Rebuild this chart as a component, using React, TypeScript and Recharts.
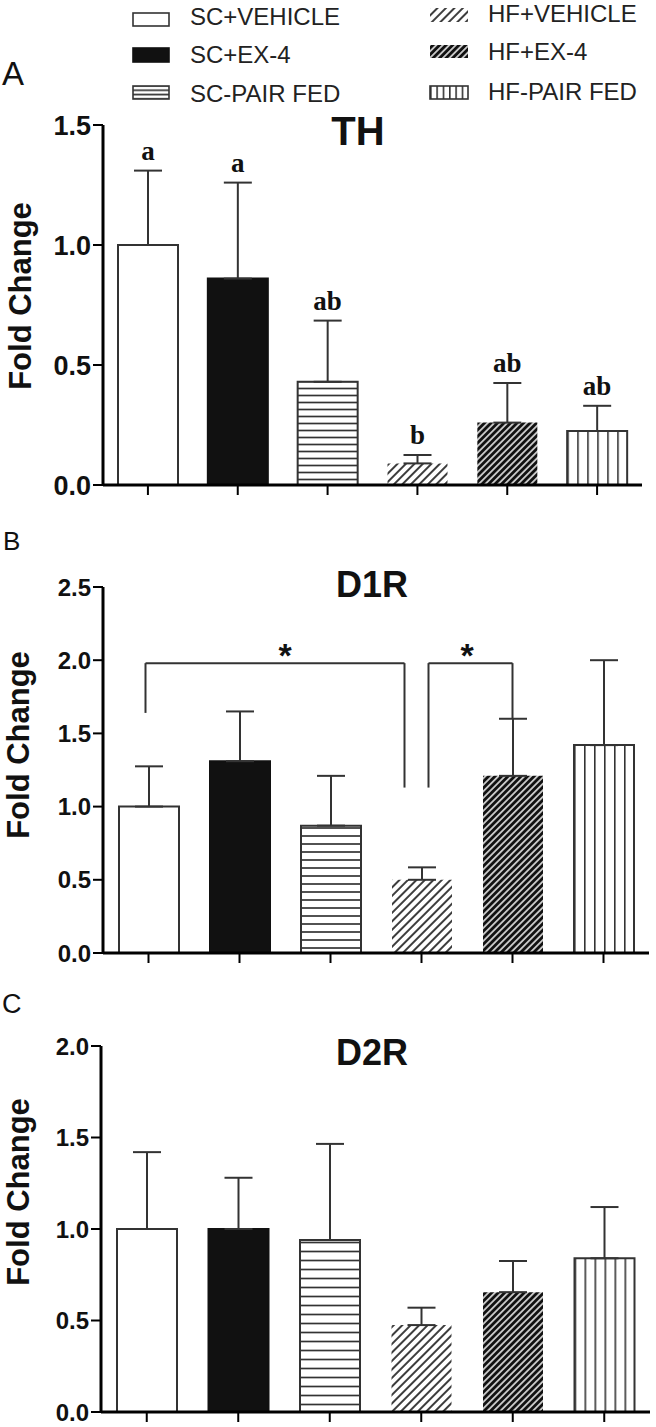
import React from "react";
import {
  ComposedChart,
  Bar,
  Cell,
  ErrorBar,
  XAxis,
  YAxis,
  Line,
  LabelList,
  ReferenceLine,
} from "recharts";

const groups = ["SC+VEHICLE", "SC+EX-4", "SC-PAIR FED", "HF+VEHICLE", "HF+EX-4", "HF-PAIR FED"];

// TH
const thMean = [1.0, 0.86, 0.43, 0.09, 0.26, 0.225];
const thSem = [0.31, 0.4, 0.255, 0.035, 0.165, 0.105];
const thLetters = ["a", "a", "ab", "b", "ab", "ab"];
const thTicks = [0, 0.5, 1.0, 1.5];

// D1R
const d1Mean = [1.0, 1.31, 0.87, 0.5, 1.21, 1.42];
const d1Sem = [0.275, 0.34, 0.34, 0.085, 0.39, 0.58];
const d1Ticks = [0, 0.5, 1.0, 1.5, 2.0, 2.5];
const d1Brackets = [
  { from: "SC+VEHICLE", to: "HF+VEHICLE", top: 1.98, fromLow: 1.64, toLow: 1.13, mark: "*" },
  { from: "HF+VEHICLE", to: "HF+EX-4", top: 1.98, fromLow: 1.13, toLow: 1.6, mark: "*" },
];

// D2R
const d2Mean = [1.0, 1.0, 0.94, 0.475, 0.655, 0.84];
const d2Sem = [0.42, 0.28, 0.525, 0.095, 0.17, 0.28];
const d2Ticks = [0, 0.5, 1.0, 1.5, 2.0];

const sans = 'Arial, "Liberation Sans", Helvetica, sans-serif';
const serif = '"Times New Roman", "Liberation Serif", serif';

// pixel nudges for the bracket legs that sit beside the HF+VEHICLE bar
const legShift = [
  [-3, -17],
  [7, 0],
];

function patternDefs(p: string, hGap: number, vCols: number) {
  return (
    <defs>
      <pattern id={`${p}-h`} patternUnits="userSpaceOnUse" width={10} height={hGap}>
        <rect width={10} height={hGap} fill="#fff" />
        <line x1={0} x2={10} y1={hGap / 2} y2={hGap / 2} stroke="#333" strokeWidth={1.7} />
      </pattern>
      <pattern id={`${p}-v`} patternUnits="objectBoundingBox" width={1 / vCols} height={1}>
        <rect width={300} height={2000} fill="#fff" />
        <line x1={0} x2={0} y1={0} y2={2000} stroke="#333" strokeWidth={3.2} />
      </pattern>
      <pattern id={`${p}-d1`} patternUnits="userSpaceOnUse" width={6} height={6} patternTransform="rotate(45)">
        <rect width={6} height={6} fill="#fff" />
        <line x1={3} x2={3} y1={0} y2={6} stroke="#333" strokeWidth={1.9} />
      </pattern>
      <pattern id={`${p}-d2`} patternUnits="userSpaceOnUse" width={4.6} height={4.6} patternTransform="rotate(45)">
        <rect width={4.6} height={4.6} fill="#fff" />
        <line x1={2.3} x2={2.3} y1={0} y2={4.6} stroke="#111" strokeWidth={3.2} />
      </pattern>
    </defs>
  );
}

const fillsFor = (p: string) => ["#fff", "#111", `url(#${p}-h)`, `url(#${p}-d1)`, `url(#${p}-d2)`, `url(#${p}-v)`];
const strokes = ["#333", "#111", "#333", "none", "none", "#333"];

type PanelProps = {
  id: string;
  top: number;
  height: number;
  marginTop: number;
  right: number;
  axisW: number;
  mean: number[];
  sem: number[];
  ticks: number[];
  tickFont: number;
  hGap: number;
  letters?: string[];
  brackets?: typeof d1Brackets;
};

function Panel({ id, top, height, marginTop, right, axisW, mean, sem, ticks, tickFont, hGap, letters, brackets }: PanelProps) {
  const rows = groups.map((g, i) => ({
    group: g,
    mean: mean[i],
    err: [0, sem[i]],
    top: mean[i] + sem[i],
    letter: letters ? letters[i] : "",
  }));
  const fills = fillsFor(id);
  const seg = (dx1: number, dx2: number) => (p: any) => (
    <line x1={p.x1 + dx1} y1={p.y1} x2={p.x2 + dx2} y2={p.y2} stroke="#333" strokeWidth={2} />
  );
  return (
    <div style={{ position: "absolute", left: 0, top }}>
      <ComposedChart width={656} height={height} data={rows} margin={{ top: marginTop, right, bottom: 0, left: 0 }}>
        {patternDefs(id, hGap, 6)}
        <XAxis
          dataKey="group"
          height={15}
          interval={0}
          tickFormatter={() => ""}
          tickSize={10}
          axisLine={{ stroke: "#000", strokeWidth: 3 }}
          tickLine={{ stroke: "#000", strokeWidth: 2 }}
        />
        <YAxis
          width={axisW}
          domain={[0, ticks[ticks.length - 1]]}
          ticks={ticks}
          interval={0}
          tickSize={10}
          tickMargin={2}
          tickFormatter={(v: number) => v.toFixed(1)}
          axisLine={{ stroke: "#000", strokeWidth: 3 }}
          tickLine={{ stroke: "#000", strokeWidth: 2 }}
          tick={{ fill: "#111", fontSize: tickFont, fontWeight: "bold", fontFamily: sans }}
        />
        <Bar dataKey="mean" barSize={60} isAnimationActive={false}>
          {groups.map((g, i) => (
            <Cell key={g} fill={fills[i]} stroke={strokes[i]} strokeWidth={2} />
          ))}
          <ErrorBar dataKey="err" direction="y" width={14} stroke="#333" strokeWidth={2} />
        </Bar>
        {letters && (
          <Line dataKey="top" stroke="none" dot={false} activeDot={false} isAnimationActive={false}>
            <LabelList
              dataKey="letter"
              position="top"
              offset={11}
              fill="#111"
              fontSize={27}
              fontWeight="bold"
              fontFamily={serif}
            />
          </Line>
        )}
        {brackets &&
          brackets.map((b, k) => (
            <React.Fragment key={k}>
              <ReferenceLine
                segment={[
                  { x: b.from, y: b.fromLow },
                  { x: b.from, y: b.top },
                ]}
                shape={seg(legShift[k][0], legShift[k][0])}
              />
              <ReferenceLine
                segment={[
                  { x: b.from, y: b.top },
                  { x: b.to, y: b.top },
                ]}
                shape={seg(legShift[k][0], legShift[k][1])}
                label={{ value: b.mark, position: "top", offset: -4, fill: "#111", fontSize: 34, fontWeight: "bold", fontFamily: sans }}
              />
              <ReferenceLine
                segment={[
                  { x: b.to, y: b.toLow },
                  { x: b.to, y: b.top },
                ]}
                shape={seg(legShift[k][1], legShift[k][1])}
              />
            </React.Fragment>
          ))}
      </ComposedChart>
    </div>
  );
}

function Legend() {
  const lf = fillsFor("lg");
  const ls = ["#333", "#111", "#333", "none", "none", "#333"];
  const sw = [
    { x: 133, y: 13, w: 36, h: 13, tx: 190, ty: 25 },
    { x: 133, y: 48, w: 36, h: 14, tx: 190, ty: 63 },
    { x: 133, y: 86, w: 36, h: 13, tx: 190, ty: 102 },
    { x: 430, y: 8, w: 38, h: 14, tx: 488, ty: 22 },
    { x: 430, y: 45, w: 38, h: 13, tx: 488, ty: 60 },
    { x: 430, y: 86, w: 38, h: 13, tx: 488, ty: 100 },
  ];
  return (
    <g>
      {groups.map((g, i) => (
        <g key={g}>
          <rect x={sw[i].x} y={sw[i].y} width={sw[i].w} height={sw[i].h} fill={lf[i]} stroke={ls[i]} strokeWidth={1.6} />
          <text x={sw[i].tx} y={sw[i].ty} fontSize={24} fontFamily={sans} fill="#222">
            {g}
          </text>
        </g>
      ))}
    </g>
  );
}

export default function App() {
  return (
    <div style={{ position: "absolute", left: 0, top: 0, width: 656, height: 1427, background: "#fff", overflow: "hidden" }}>
      <Panel id="pa" top={0} height={500} marginTop={125} right={14} axisW={103} mean={thMean} sem={thSem} ticks={thTicks} tickFont={27} hGap={7} letters={thLetters} />
      <Panel id="pb" top={520} height={448} marginTop={67} right={7} axisW={103} mean={d1Mean} sem={d1Sem} ticks={d1Ticks} tickFont={24} hGap={8} brackets={d1Brackets} />
      <Panel id="pc" top={968} height={459} marginTop={78} right={6} axisW={101} mean={d2Mean} sem={d2Sem} ticks={d2Ticks} tickFont={24} hGap={9} />
      <svg width={656} height={1427} style={{ position: "absolute", left: 0, top: 0, pointerEvents: "none" }}>
        {patternDefs("lg", 4.4, 6)}
        <Legend />
        <text x={2} y={85} fontSize={33} fontFamily={sans} fill="#111">A</text>
        <text x={3} y={550} fontSize={26} fontFamily={sans} fill="#111">B</text>
        <text x={2} y={1013} fontSize={27} fontFamily={sans} fill="#111">C</text>
        <text x={358} y={145} textAnchor="middle" fontSize={40} fontWeight="bold" fontFamily={sans} fill="#111">TH</text>
        <text x={372} y={597} textAnchor="middle" fontSize={36} fontWeight="bold" fontFamily={sans} fill="#111">D1R</text>
        <text x={372} y={1065} textAnchor="middle" fontSize={36} fontWeight="bold" fontFamily={sans} fill="#111">D2R</text>
        <text transform="translate(31,296) rotate(-90)" textAnchor="middle" fontSize={31} fontWeight="bold" fontFamily={sans} fill="#111">Fold Change</text>
        <text transform="translate(29,745) rotate(-90)" textAnchor="middle" fontSize={31} fontWeight="bold" fontFamily={sans} fill="#111">Fold Change</text>
        <text transform="translate(29,1192) rotate(-90)" textAnchor="middle" fontSize={31} fontWeight="bold" fontFamily={sans} fill="#111">Fold Change</text>
      </svg>
    </div>
  );
}
